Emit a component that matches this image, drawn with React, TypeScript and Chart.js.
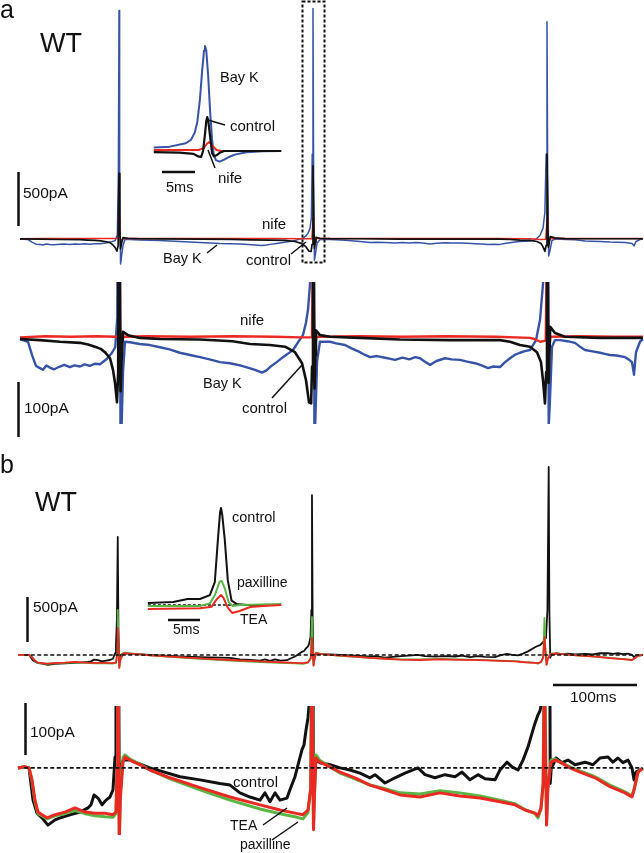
import React, { useEffect, useRef } from "react";
import { Chart, registerables } from "chart.js";
Chart.register(...registerables);

type P = [number, number];

// ---------- Panel a (time in ms, current in pA) ----------
const BAYK_A: P[] = [
  [0, 0], [9.4, -5], [14.1, -29], [18.8, -49], [23.5, -53], [27, -56], [31, -48], [35, -52], [40, -55], [47, -50],
  [52, -47], [58.8, -51], [64, -48], [70.6, -50], [76, -46], [82, -49], [88, -45], [94.1, -46], [102.4, -36], [108.2, -25],
  [112, -15], [114.5, 40], [115.7, 600], [116.5, 2155], [117.2, 500], [118.3, -237], [119.5, -160], [121.2, -60], [123.5, -5],
  [129.4, -6], [141, -9], [152.9, -11], [164.7, -15], [176, -19], [188, -25], [200, -29], [211.8, -33], [223, -37], [235.3, -42],
  [247, -44], [258.8, -48], [268, -52], [276.5, -56], [284.7, -61], [290, -57], [294.1, -51], [302, -42], [309.4, -33],
  [315, -27], [321.2, -20], [327.1, -6], [332.9, 7], [336.5, 30], [338.8, 53], [341.2, 100], [342.8, 200], [343.8, 800],
  [344.7, 2175], [345.4, 600], [346.4, -200], [347.6, -140], [349.5, -40], [352.9, -5], [364.7, -5], [372, -8], [382.4, -11],
  [390, -17], [400, -24], [406, -29], [411.8, -33], [420, -31], [429.4, -34], [436, -36], [441.2, -38], [450, -34],
  [458, -37], [465, -33], [470.6, -35], [476, -41], [482.4, -47], [490, -40], [500, -35], [508, -37], [517.6, -38],
  [526, -41], [535.3, -44], [543, -48], [550.6, -53], [557, -50], [564.7, -51], [570, -43], [576.5, -35], [582, -29],
  [588.2, -25], [594, -22], [600, -20], [607.1, -2], [611.8, 35], [615.3, 100], [617.5, 250], [619, 800], [620, 2050],
  [620.8, 600], [622, -160], [623.5, -110], [625.9, -14], [629.4, -2], [635.3, -2], [644, -4], [652.9, -7], [658, -13],
  [664.7, -20], [672, -22], [682.4, -25], [688, -27], [694.1, -29], [702, -30], [711.8, -33], [716, -37], [720, -42],
  [722.4, -65], [724.7, -24], [729.4, -5], [732.9, 0],
];

const CONTROL_A: P[] = [
  [0, 0], [23.5, -2], [47.1, -5], [70.6, -7], [80, -10], [88.2, -14], [95, -18], [100, -24], [105.9, -35], [109.4, -56],
  [111.8, -80], [114.1, -115], [115.5, -60], [116.5, 620], [117.4, 100], [118.3, -95], [119.5, -40], [121.2, 13],
  [127.1, 7], [141.2, 2], [164.7, 0], [211.8, -1], [250, -4], [270.6, -9], [294.1, -11], [311.8, -14], [323.5, -24],
  [331.8, -44], [336.5, -75], [340, -115], [342.5, -117], [343.6, -50], [344.7, 690], [345.6, 100], [346.5, -90],
  [347.5, -30], [348.2, 16], [352.9, 7], [364.7, 4], [400, 2], [447.1, -1], [505.9, -2], [564.7, -2], [576.5, -5],
  [588.2, -11], [600, -14], [608.2, -24], [612.9, -42], [615.3, -75], [617.6, -117], [619, -60], [620, 800],
  [620.9, 100], [621.8, -80], [623, -20], [623.8, 22], [629.4, 11], [641.2, 4], [682.4, 2], [732.9, 2],
];

const NIFE_A: P[] = [
  [0, 3], [30, 5], [60, 4], [90, 5], [112, 4], [115.5, 5], [116.6, 190], [117.6, 40], [118.6, -30], [120, -5],
  [122, 4], [150, 5], [200, 4], [250, 5], [300, 4], [330, 3], [343.5, 3], [344.8, 200], [345.8, 40], [346.8, -30],
  [348.5, 4], [400, 5], [450, 4], [500, 5], [560, 4], [600, 2], [605, 0], [612, -5], [618.5, -3], [620.1, 190],
  [621.1, 40], [622.1, -30], [624, 4], [660, 5], [700, 4], [732.9, 4],
];

// inset a (ms relative to peak, pA)
const BAYK_IN_A: P[] = [
  [-8, 70], [-5.5, 90], [-3, 160], [-2.2, 230], [-1.6, 380], [-1.2, 600], [-0.8, 1050], [-0.45, 1650], [-0.15, 2080],
  [0, 2170], [0.2, 2080], [0.5, 1550], [0.8, 820], [1.1, 250], [1.35, -60], [1.7, -190], [2.3, -220], [3, -180],
  [3.8, -120], [4.8, -70], [6.5, -25], [9, -5], [11.9, 0],
];
const CONTROL_IN_A: P[] = [
  [-8, -25], [-4, -35], [-1.8, -60], [-1.1, -110], [-0.6, -120], [-0.3, 0], [0, 350], [0.2, 620], [0.35, 700],
  [0.5, 640], [0.8, 300], [1.1, -40], [1.4, -110], [1.8, -90], [2.4, -30], [3, 0], [11.9, 0],
];
const NIFE_IN_A: P[] = [
  [-8, 20], [-1, 20], [-0.2, 60], [0.3, 150], [0.6, 180], [0.9, 160], [1.3, 90], [1.8, 20], [2.5, 0], [11.9, 0],
];

// ---------- Panel b ----------
const CONTROL_B: P[] = [
  [-2.4, 0], [5.9, 2], [10.6, 0], [15.3, -62], [20, -87], [25.9, -96], [32.9, -110], [41.2, -100], [47.1, -96],
  [58.8, -90], [70.6, -85], [80, -77], [83.5, -71], [87.1, -52], [91.8, -58], [96.5, -71], [101.2, -62], [105.9, -56],
  [109.4, -42], [111.8, 21], [112.9, 117], [114, 400], [115, 1310], [115.8, 300], [116.8, -60], [118.5, 0], [121.2, 15],
  [129.4, 15], [152.9, 0], [188.2, -17], [211.8, -23], [235, -30], [247.1, -33], [258.8, -48], [270.6, -56],
  [282.4, -62], [288.2, -48], [294.1, -65], [300, -48], [305.9, -62], [314.1, -58], [317.6, -42], [323.5, -17],
  [327.1, 6], [331.8, 35], [334.1, 44], [336.5, 73], [338.8, 96], [340, 119], [341.8, 200], [342.8, 500],
  [343.5, 1776], [344.3, 400], [345.2, -50], [346.5, 0], [348.2, 15], [352.9, 10], [364.7, 6], [376.5, 0],
  [388.2, -4], [400, -10], [411.8, -19], [417.6, -13], [429.4, -29], [441.2, -19], [452.9, -10], [468.2, 0],
  [476.5, -13], [488.2, -19], [500, -13], [511.8, -17], [520, -8], [529.4, -23], [538.8, -13], [547.1, -21],
  [558.8, -23], [564.7, -4], [572.9, 11], [578.8, 2], [585.9, -4], [591.8, 15], [597.6, 40], [602.4, 67],
  [605.9, 86], [609.4, 102], [611.8, 110], [614.5, 133], [618.8, 189], [620.5, 500], [622, 2087], [622.8, 500],
  [623.8, -30], [625, 0], [627.1, 6], [630.6, 19], [637.6, 10], [644.7, 15], [652.9, 6], [664.7, 11], [674.1, 6],
  [682.4, 19], [691.8, 21], [697.6, 11], [703.5, 19], [709.4, 10], [715.3, 15], [720, 0], [722.4, -23],
  [724.7, -8], [729.4, -4], [732.9, 0],
];

const PAXILLINE_B: P[] = [
  [-2.4, 0], [5.9, 2], [10.6, 0], [14.1, -25], [17.6, -65], [21.2, -88], [25.9, -92], [31.8, -98], [41.2, -92],
  [52.9, -88], [64.7, -82], [76.5, -88], [88.2, -92], [100, -94], [109.4, -95], [112.9, -88], [114.2, 0], [115, 500],
  [115.8, 150], [116.8, -140], [118, -50], [121.2, 20], [123.5, 25], [129.4, 17], [141.2, 7], [152.9, -4],
  [176.5, -21], [211.8, -42], [247.1, -62], [282.4, -79], [305.9, -88], [323.5, -94], [332.9, -98], [338.8, -86],
  [342, -40], [343.5, 422], [344.3, 100], [345.3, -115], [346.5, -45], [348.2, 25], [352.9, 14], [364.7, 2],
  [376.5, -10], [394.1, -21], [411.8, -33], [429.4, -40], [447.1, -48], [470.6, -50], [494.1, -44], [517.6, -48],
  [541.2, -54], [564.7, -62], [582.4, -69], [594.1, -80], [605.9, -88], [609.4, -96], [612.9, -80], [615.5, -30],
  [617, 411], [618, 100], [619.5, -105], [621, -35], [624.7, 15], [629.4, 17], [635.3, 11], [647.1, 2],
  [658.8, -6], [676.5, -17], [694.1, -33], [711.8, -46], [720, -54], [722.4, -42], [727.1, -8], [731.8, -2],
];

const TEA_B: P[] = [
  [-2.4, 0], [5.9, 2], [10.6, 0], [14.1, -23], [17.6, -62], [21.2, -85], [25.9, -90], [31.8, -96], [41.2, -90],
  [52.9, -85], [64.7, -77], [76.5, -85], [88.2, -87], [100, -87], [109.4, -90], [112.9, -85], [114.2, 0], [115, 300],
  [115.8, 100], [116.8, -144], [118, -60], [121.2, 11], [123.5, 21], [129.4, 15], [141.2, 6], [152.9, -4],
  [176.5, -19], [211.8, -38], [247.1, -56], [282.4, -71], [305.9, -81], [323.5, -87], [332.9, -90], [338.8, -81],
  [342, -40], [343.5, 189], [344.3, 50], [345.3, -119], [346.5, -50], [348.2, 19], [352.9, 11], [364.7, 2],
  [376.5, -8], [394.1, -19], [411.8, -33], [429.4, -42], [447.1, -52], [470.6, -56], [494.1, -48], [517.6, -54],
  [541.2, -58], [564.7, -65], [582.4, -71], [594.1, -81], [605.9, -87], [609.4, -92], [612.9, -77], [615.5, -30],
  [617, 200], [618, 60], [619.5, -110], [621, -40], [624.7, 11], [629.4, 15], [635.3, 11], [647.1, 0],
  [658.8, -8], [676.5, -19], [694.1, -36], [711.8, -48], [720, -56], [722.4, -42], [727.1, -8], [731.8, -2],
];

const ZERO_B: P[] = [[5, 0], [729, 0]];

// inset b
const CONTROL_IN_B: P[] = [
  [-11.8, 37], [-7.7, 55], [-5.4, 110], [-3.4, 110], [-1.8, 180], [-1.0, 420], [-0.5, 1200], [-0.15, 1700], [0, 1775],
  [0.2, 1650], [0.6, 1200], [1.1, 450], [1.7, 80], [2.5, 20], [4.2, 0], [9.7, 0],
];
const PAXILLINE_IN_B: P[] = [
  [-11.8, -18], [-3.4, -18], [-1.8, 30], [-1, 180], [-0.2, 430], [0.1, 440], [0.6, 310], [1.2, 60], [1.9, -20],
  [3, 0], [9.7, 18],
];
const TEA_IN_B: P[] = [
  [-11.8, -73], [-3.4, -60], [-1.5, -30], [-0.8, 90], [0, 183], [0.4, 130], [1.1, -50], [1.8, -146], [3, -110],
  [4.7, -37], [6.8, -18], [9.7, 0],
];
const ZERO_IN_B: P[] = [[-11.8, 0], [9.7, 0]];

// ---------- styles ----------
const BLUE = "#3753a6";
const RED = "#ea2a22";
const GREEN = "#5ab545";
const BLACK = "#111111";
const FONT = '"Liberation Sans", Arial, Helvetica, sans-serif';

interface Series { data: P[]; color: string; width: number; dash?: number[] }
interface TCProps {
  left: number; top: number; width: number; height: number;
  xMin: number; xMax: number; yMin: number; yMax: number; series: Series[];
}

function TraceChart(p: TCProps) {
  const ref = useRef<HTMLCanvasElement>(null);
  useEffect(() => {
    const n = p.series.length;
    const chart = new Chart(ref.current as HTMLCanvasElement, {
      type: "line",
      data: {
        datasets: p.series.map((s, i) => ({
          data: s.data.map(([x, y]) => ({ x, y })),
          borderColor: s.color,
          borderWidth: s.width,
          borderDash: s.dash || [],
          borderJoinStyle: "round",
          pointRadius: 0,
          tension: 0,
          fill: false,
          order: n - i,
        })),
      } as any,
      options: {
        animation: false,
        responsive: false,
        events: [],
        parsing: false,
        layout: { padding: 0 },
        plugins: { legend: { display: false }, tooltip: { enabled: false } },
        scales: {
          x: { type: "linear", min: p.xMin, max: p.xMax, display: false },
          y: { type: "linear", min: p.yMin, max: p.yMax, display: false },
        },
      } as any,
    });
    return () => chart.destroy();
  }, []);
  return (
    <canvas
      ref={ref}
      width={p.width}
      height={p.height}
      style={{ position: "absolute", left: p.left, top: p.top, width: p.width, height: p.height }}
    />
  );
}

function Label({ x, base, size, text }: { x: number; base: number; size: number; text: string }) {
  return (
    <div
      style={{
        position: "absolute", left: x, top: base - 0.8465 * size, fontSize: size, lineHeight: `${size}px`,
        fontFamily: FONT, color: "#111", whiteSpace: "nowrap",
      }}
    >
      {text}
    </div>
  );
}

const XMIN = -23.53;
const XMAX = 734.12;

export default function App() {
  return (
    <div style={{ position: "absolute", left: 0, top: 0, width: 644, height: 853, background: "#fff", overflow: "hidden" }}>
      {/* panel a top */}
      <TraceChart left={0} top={0} width={644} height={280} xMin={XMIN} xMax={XMAX} yMin={-387} yMax={2254}
        series={[
          { data: BAYK_A, color: BLUE, width: 1.5 },
          { data: NIFE_A, color: RED, width: 1.5 },
          { data: CONTROL_A, color: BLACK, width: 1.7 },
        ]} />
      {/* panel a bottom */}
      <TraceChart left={0} top={282} width={644} height={142} xMin={XMIN} xMax={XMAX} yMin={-154.5} yMax={103.6}
        series={[
          { data: BAYK_A, color: BLUE, width: 2.4 },
          { data: NIFE_A, color: RED, width: 2.4 },
          { data: CONTROL_A, color: BLACK, width: 2.6 },
        ]} />
      {/* inset a */}
      <TraceChart left={150} top={35} width={135} height={135} xMin={-8.59} xMax={12.5} yMin={-393} yMax={2398}
        series={[
          { data: BAYK_IN_A, color: BLUE, width: 2 },
          { data: NIFE_IN_A, color: RED, width: 2 },
          { data: CONTROL_IN_A, color: BLACK, width: 2.2 },
        ]} />
      {/* panel b top */}
      <TraceChart left={0} top={440} width={644} height={250} xMin={XMIN} xMax={XMAX} yMin={-389} yMax={2387}
        series={[
          { data: CONTROL_B, color: BLACK, width: 1.8 },
          { data: PAXILLINE_B, color: GREEN, width: 1.8 },
          { data: TEA_B, color: RED, width: 1.8 },
          { data: ZERO_B, color: BLACK, width: 1.6, dash: [4, 2.5] },
        ]} />
      {/* panel b bottom */}
      <TraceChart left={0} top={706} width={644} height={129} xMin={XMIN} xMax={XMAX} yMin={-129} yMax={119}
        series={[
          { data: CONTROL_B, color: BLACK, width: 3 },
          { data: PAXILLINE_B, color: GREEN, width: 3 },
          { data: TEA_B, color: RED, width: 3 },
          { data: ZERO_B, color: BLACK, width: 1.8, dash: [4, 2.5] },
        ]} />
      {/* inset b */}
      <TraceChart left={145} top={500} width={140} height={120} xMin={-12.26} xMax={10.32} yMin={-274.5} yMax={1921.5}
        series={[
          { data: ZERO_IN_B, color: BLACK, width: 1.5, dash: [3, 2] },
          { data: CONTROL_IN_B, color: BLACK, width: 2 },
          { data: PAXILLINE_IN_B, color: GREEN, width: 2 },
          { data: TEA_IN_B, color: RED, width: 2 },
        ]} />

      {/* scale bars, pointers, box */}
      <svg width={644} height={853} style={{ position: "absolute", left: 0, top: 0 }}>
        <g stroke="#111" strokeWidth={2.5} fill="none">
          <line x1={18.5} y1={172} x2={18.5} y2={226} />
          <line x1={162} y1={172} x2={195} y2={172} />
          <line x1={18.5} y1={382} x2={18.5} y2={437} />
          <line x1={27.5} y1={597} x2={27.5} y2={642} />
          <line x1={168} y1={620} x2={200} y2={620} />
          <line x1={553} y1={685} x2={637} y2={685} />
          <line x1={25.5} y1={703} x2={25.5} y2={755} />
        </g>
        <g stroke="#111" strokeWidth={1.5} fill="none">
          <line x1={207} y1={253} x2={217} y2={245} />
          <line x1={291} y1={254} x2={306} y2={242} />
          <line x1={208} y1={120} x2={225} y2={125} />
          <line x1={208} y1={150} x2={215} y2={168} />
          <line x1={272} y1={398} x2={302} y2={365} />
          <line x1={263} y1={825} x2={287} y2={808} />
          <line x1={272} y1={840} x2={298} y2={822} />
        </g>
        <rect x={302.5} y={1.5} width={22} height={261} stroke="#111" strokeWidth={2} strokeDasharray="3 2" fill="none" />
      </svg>

      <Label x={0} base={18} size={25} text="a" />
      <Label x={40} base={53} size={27} text="WT" />
      <Label x={220} base={82} size={14.5} text="Bay K" />
      <Label x={230} base={131} size={15} text="control" />
      <Label x={218} base={183} size={15} text="nife" />
      <Label x={166} base={192} size={14.5} text="5ms" />
      <Label x={23} base={198} size={15.5} text="500pA" />
      <Label x={262} base={229} size={15} text="nife" />
      <Label x={163} base={263} size={14.5} text="Bay K" />
      <Label x={246} base={265} size={15} text="control" />
      <Label x={240} base={325} size={15} text="nife" />
      <Label x={203} base={388} size={14.5} text="Bay K" />
      <Label x={242} base={413} size={15} text="control" />
      <Label x={24} base={413} size={15.5} text="100pA" />

      <Label x={0} base={473} size={25} text="b" />
      <Label x={35} base={512} size={27} text="WT" />
      <Label x={232} base={522} size={14.5} text="control" />
      <Label x={237} base={587} size={14} text="paxilline" />
      <Label x={240} base={624} size={14} text="TEA" />
      <Label x={173} base={634} size={14} text="5ms" />
      <Label x={33} base={612} size={15.5} text="500pA" />
      <Label x={570} base={702} size={15.5} text="100ms" />
      <Label x={30} base={737} size={15.5} text="100pA" />
      <Label x={233} base={787} size={15} text="control" />
      <Label x={230} base={830} size={14} text="TEA" />
      <Label x={240} base={849} size={14} text="paxilline" />
    </div>
  );
}
